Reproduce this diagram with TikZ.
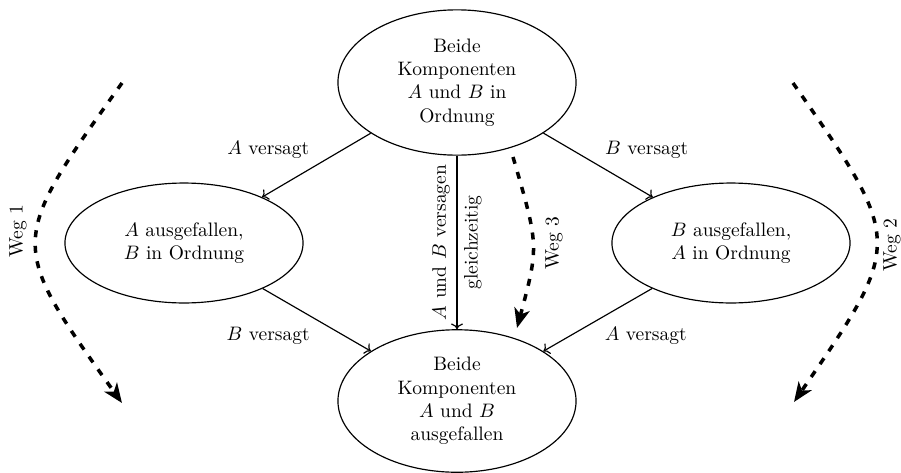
\documentclass[tikz,border=0pt]{standalone}
\usetikzlibrary{arrows.meta,shapes.geometric}
\begin{document}
\begin{tikzpicture}[x=0.5128pt,y=-0.5128pt,
  zustand/.style={ellipse, draw, line width=0.6pt, text width=2.8cm, align=center,
    inner sep=0.3333em, minimum height=73pt},
  seite/.style={zustand, minimum height=61.5pt},
  uebergang/.style={->, line width=0.6pt},
  weg/.style={line width=1.8pt, dash pattern=on 3.6pt off 4.4pt,
    -{Stealth[length=10pt,width=8pt,inset=2.8pt]}},
  wegtext/.style={rotate=90, inner sep=0pt}]
\useasboundingbox (0,0) rectangle (901,472);

% Zustaende
\node[zustand, minimum height=74.5pt] (ok) at (457,82.5) {Beide\\Komponenten\\$A$ und $B$ in\\Ordnung};
\node[seite] (aaus) at (184,243) {$A$ ausgefallen,\\$B$ in Ordnung};
\node[seite] (baus) at (731,243) {$B$ ausgefallen,\\$A$ in Ordnung};
\node[zustand, minimum height=71pt] (beide) at (457,401) {Beide\\Komponenten\\$A$ und $B$\\ausgefallen};

% Uebergaenge
\draw[uebergang] (ok) -- node[midway, above left] {$A$ versagt} (aaus);
\draw[uebergang] (ok) -- node[midway, above right] {$B$ versagt} (baus);
\draw[uebergang] (aaus) -- node[midway, below left] {$B$ versagt} (beide);
\draw[uebergang] (baus) -- node[midway, below right] {$A$ versagt} (beide);
\draw[uebergang] (ok) --
  node[midway, rotate=90, anchor=south] {$A$ und $B$ versagen}
  node[midway, rotate=90, anchor=north] {gleichzeitig} (beide);

% Wege
\coordinate (w1a) at (122,83);
\coordinate (w1b) at (122,403);
\coordinate (w2a) at (793,83);
\coordinate (w2b) at (794,402);
\coordinate (w3a) at (513,157);
\coordinate (w3b) at (517,328);
\draw[weg] (w1a) .. controls (7.5,243) .. (w1b);
\draw[weg] (w2a) .. controls (904,242) .. (w2b);
\draw[weg] (w3a) .. controls (539,246) .. (w3b);
\node[wegtext] (weg1) at (18,231) {Weg 1};
\node[wegtext] (weg2) at (892,245) {Weg 2};
\node[wegtext] (weg3) at (554,243) {Weg 3};
\end{tikzpicture}
\end{document}
